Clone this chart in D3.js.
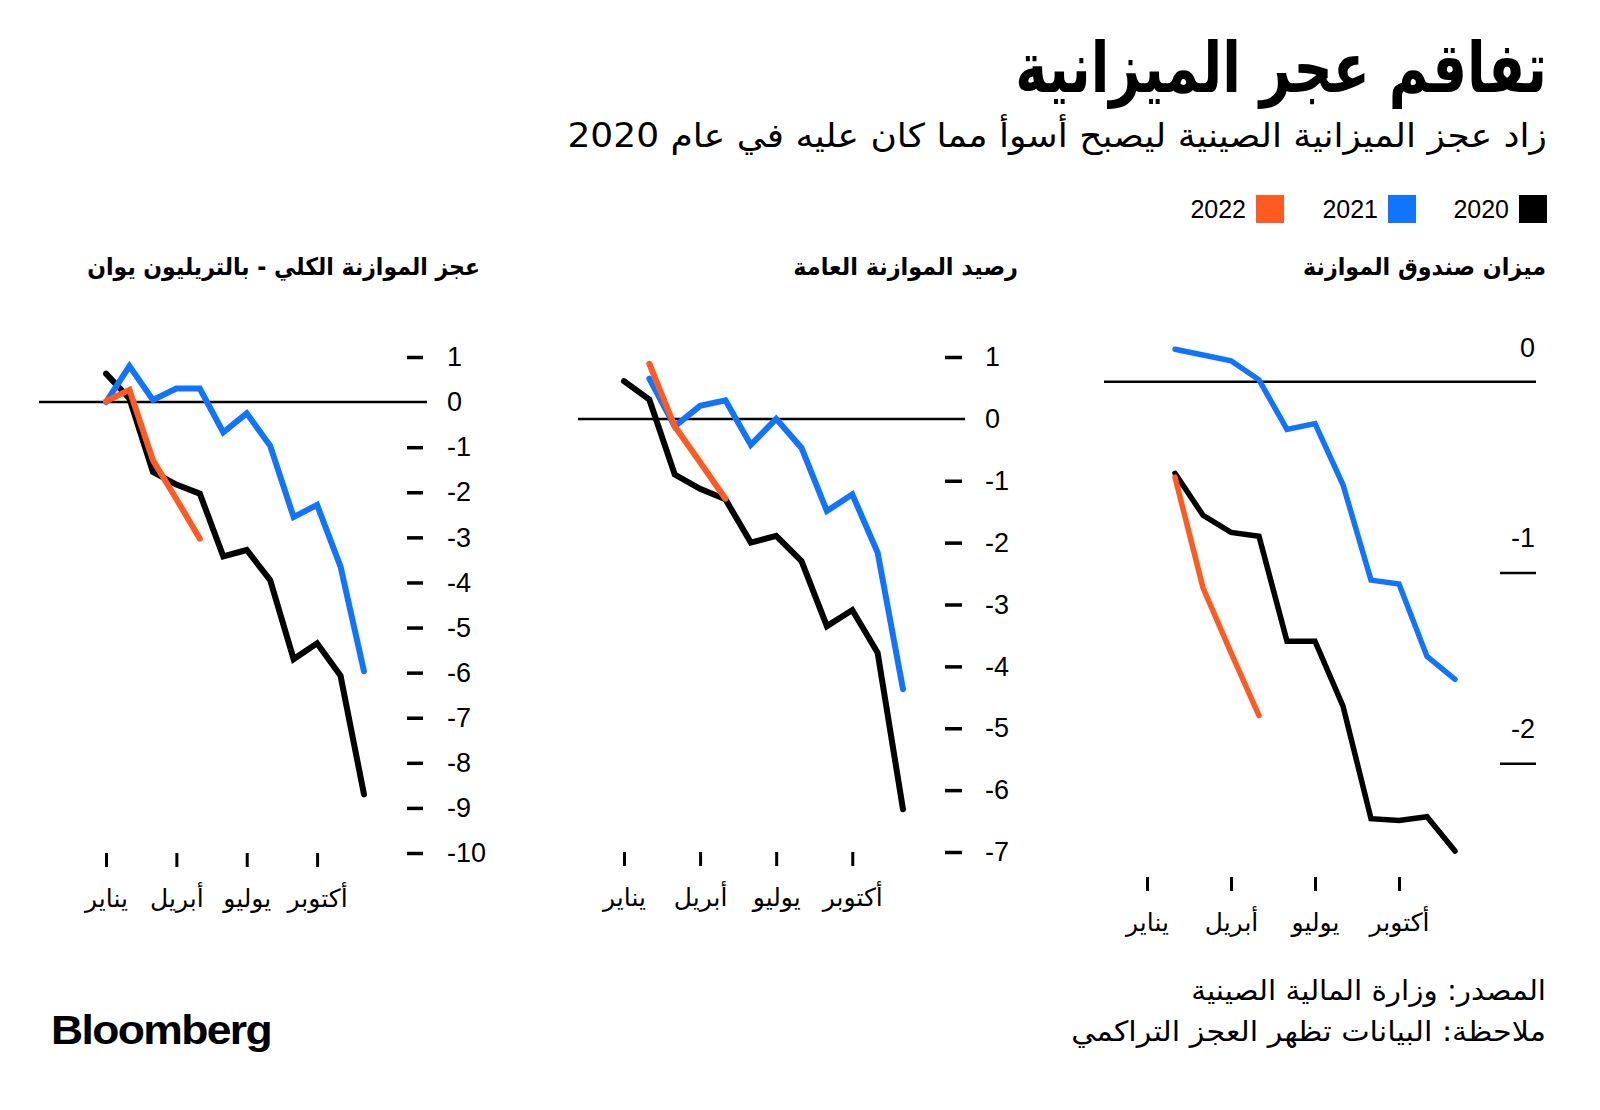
<!DOCTYPE html>
<html>
<head>
<meta charset="utf-8">
<script src="https://cdn.jsdelivr.net/npm/d3@7"></script>
<style>
  html, body { margin: 0; padding: 0; background: #fff; }
  svg { display: block; }
  .ar { font-family: "DejaVu Sans", "Noto Sans", sans-serif; }
  .num { font-family: "Liberation Sans", Arial, sans-serif; }
</style>
</head>
<body>
<svg id="chart" width="1600" height="1110"></svg>
<script>
// ---------- data ----------
const months = ["يناير","فبراير","مارس","أبريل","مايو","يونيو","يوليو","أغسطس","سبتمبر","أكتوبر","نوفمبر","ديسمبر"];
const monthTickIdx = [0, 3, 6, 9];
const monthTickLabels = ["يناير", "أبريل", "يوليو", "أكتوبر"];
const years = ["2020", "2021", "2022"];
const colors = ["#000000", "#1174ff", "#ff5a22"];

// Panel A: overall deficit (trillion yuan)
const totalDeficit2020 = [0.63, 0.08, -1.55, -1.83, -2.03, -3.42, -3.28, -3.95, -5.70, -5.35, -6.07, -8.70];
const totalDeficit2021 = [0.00, 0.80, 0.05, 0.30, 0.30, -0.67, -0.25, -0.97, -2.55, -2.28, -3.65, -5.97];
const totalDeficit2022 = [0.02, 0.27, -1.29, -2.15, -3.03];
const totalTicks = [1, 0, -1, -2, -3, -4, -5, -6, -7, -8, -9, -10];

// Panel B: general public budget balance
const generalBudget2020 = [0.61, 0.31, -0.90, -1.13, -1.30, -2.00, -1.89, -2.30, -3.35, -3.09, -3.78, -6.31];
const generalBudget2021 = [null, 0.65, -0.12, 0.21, 0.30, -0.42, 0.00, -0.47, -1.49, -1.22, -2.16, -4.37];
const generalBudget2022 = [null, 0.89, -0.12, -0.70, -1.29];
const generalTicks = [1, 0, -1, -2, -3, -4, -5, -6, -7];

// Panel C: government fund budget balance
const fundBudget2020 = [null, -0.48, -0.70, -0.79, -0.81, -1.36, -1.36, -1.70, -2.29, -2.30, -2.28, -2.46];
const fundBudget2021 = [null, 0.17, 0.14, 0.11, 0.01, -0.25, -0.22, -0.54, -1.04, -1.06, -1.44, -1.56];
const fundBudget2022 = [null, -0.50, -1.08, -1.42, -1.75];
const fundTicks = [0, -1, -2];

const titleText = "تفاقم عجر الميزانية";
const subtitleText = "زاد عجز الميزانية الصينية ليصبح أسوأ مما كان عليه في عام 2020";
const panelTitles = ["عجز الموازنة الكلي - بالتريليون يوان", "رصيد الموازنة العامة", "ميزان صندوق الموازنة"];
const sourceText = "المصدر: وزارة المالية الصينية";
const noteText = "ملاحظة: البيانات تظهر العجز التراكمي";

// ---------- drawing ----------
const svg = d3.select("#chart");
svg.append("rect").attr("width", 1600).attr("height", 1110).attr("fill", "#fff");

const hyphenFmt = d => String(d); // plain hyphen-minus like the reference

function fitRight(sel, xRight, y, width) {
  const w = sel.node().getComputedTextLength();
  const s = width / w;
  sel.attr("x", 0).attr("y", 0)
     .attr("transform", `translate(${xRight},${y}) scale(${s},1)`);
}
function fitLeft(sel, xLeft, y, width) {
  const w = sel.node().getComputedTextLength();
  const s = width / w;
  sel.attr("x", 0).attr("y", 0)
     .attr("transform", `translate(${xLeft},${y}) scale(${s},1)`);
}

// Title
const t = svg.append("text").attr("class", "ar").attr("text-anchor", "end")
  .attr("font-size", 70).attr("font-weight", 900).attr("fill", "#000").text(titleText);
fitRight(t, 1547, 92, 532);

// Subtitle
const st = svg.append("text").attr("class", "ar").attr("text-anchor", "end")
  .attr("font-size", 33).attr("fill", "#000").text(subtitleText);
fitRight(st, 1547, 147, 980);

// Legend
const legendSquareX = [1519, 1388, 1256];
years.forEach((yr, i) => {
  svg.append("rect").attr("x", legendSquareX[i]).attr("y", 195).attr("width", 28).attr("height", 28)
    .attr("fill", colors[i]);
  svg.append("text").attr("class", "num").attr("x", legendSquareX[i] - 10).attr("y", 209)
    .attr("dy", "0.35em").attr("text-anchor", "end").attr("font-size", 25).attr("fill", "#000").text(yr);
});

// Panel titles
const panelTitleRight = [480, 1018, 1546];
const panelTitleWidth = [393, 225, 243];
panelTitles.forEach((pt, i) => {
  const s = svg.append("text").attr("class", "ar").attr("text-anchor", "end")
    .attr("font-size", 24).attr("font-weight", "bold").attr("fill", "#000").text(pt);
  fitRight(s, panelTitleRight[i], 275, panelTitleWidth[i]);
});

function drawLines(g, x, y, seriesList, lw) {
  const line = d3.line()
    .defined(d => d.v !== null && d.v !== undefined)
    .x(d => x(d.i)).y(d => y(d.v));
  seriesList.forEach((vals, k) => {
    const data = vals.map((v, i) => ({ i, v }));
    g.append("path").datum(data)
      .attr("d", line)
      .attr("fill", "none")
      .attr("stroke", colors[k])
      .attr("stroke-width", lw)
      .attr("stroke-linejoin", "miter")
      .attr("stroke-miterlimit", 2)
      .attr("stroke-linecap", "round");
  });
}

function monthAxis(g, x, yPos) {
  const ax = d3.axisBottom(x).tickValues(monthTickIdx)
    .tickFormat((d, i) => monthTickLabels[i]).tickSize(14).tickPadding(0);
  const ag = g.append("g").attr("transform", `translate(0,${yPos})`).call(ax);
  ag.select(".domain").remove();
  ag.selectAll(".tick line").attr("stroke", "#000").attr("stroke-width", 3);
  ag.selectAll(".tick text").attr("class", "ar").attr("font-family", null)
    .attr("font-size", 25).attr("fill", "#000")
    .attr("y", 45).attr("dy", "0.35em");
}

// ---- Panel A ----
{
  const g = svg.append("g");
  const x = d3.scaleLinear().domain([0, 11]).range([106, 364]);
  const y = d3.scaleLinear().domain([1, -10]).range([357, 853]);
  g.append("line").attr("x1", 39).attr("x2", 427).attr("y1", y(0)).attr("y2", y(0))
    .attr("stroke", "#000").attr("stroke-width", 2.5);
  const ax = d3.axisRight(y).tickValues(totalTicks).tickSize(16).tickPadding(24)
    .tickFormat(hyphenFmt);
  const ag = g.append("g").attr("transform", "translate(407,0)").call(ax);
  ag.select(".domain").remove();
  ag.selectAll(".tick line").attr("stroke", "#000").attr("stroke-width", 3.5);
  ag.selectAll(".tick").filter(d => d === 0).select("line").remove();
  ag.selectAll(".tick text").attr("class", "num").attr("font-family", null)
    .attr("font-size", 27).attr("fill", "#000");
  monthAxis(g, x, 853);
  drawLines(g, x, y, [totalDeficit2020, totalDeficit2021, totalDeficit2022], 6);
}

// ---- Panel B ----
{
  const g = svg.append("g");
  const x = d3.scaleLinear().domain([0, 11]).range([624, 903]);
  const y = d3.scaleLinear().domain([1, -7]).range([357, 852]);
  g.append("line").attr("x1", 578).attr("x2", 965).attr("y1", y(0)).attr("y2", y(0))
    .attr("stroke", "#000").attr("stroke-width", 2.5);
  const ax = d3.axisRight(y).tickValues(generalTicks).tickSize(17).tickPadding(23)
    .tickFormat(hyphenFmt);
  const ag = g.append("g").attr("transform", "translate(945,0)").call(ax);
  ag.select(".domain").remove();
  ag.selectAll(".tick line").attr("stroke", "#000").attr("stroke-width", 3.5);
  ag.selectAll(".tick").filter(d => d === 0).select("line").remove();
  ag.selectAll(".tick text").attr("class", "num").attr("font-family", null)
    .attr("font-size", 27).attr("fill", "#000");
  monthAxis(g, x, 852);
  drawLines(g, x, y, [generalBudget2020, generalBudget2021, generalBudget2022], 6);
}

// ---- Panel C ----
{
  const g = svg.append("g");
  const x = d3.scaleLinear().domain([0, 11]).range([1147, 1455]);
  const y = d3.scaleLinear().domain([0, -2]).range([381.7, 763.3]);
  g.append("line").attr("x1", 1104).attr("x2", 1536).attr("y1", y(0)).attr("y2", y(0))
    .attr("stroke", "#000").attr("stroke-width", 2.5);
  const ax = d3.axisLeft(y).tickValues(fundTicks).tickSize(36).tickPadding(0)
    .tickFormat(hyphenFmt);
  const ag = g.append("g").attr("transform", "translate(1536,0)").call(ax);
  ag.select(".domain").remove();
  ag.selectAll(".tick line").attr("stroke", "#000").attr("stroke-width", 2.5);
  ag.selectAll(".tick").filter(d => d === 0).select("line").remove();
  ag.selectAll(".tick text").attr("class", "num").attr("font-family", null)
    .attr("font-size", 27).attr("fill", "#000")
    .attr("x", -1).attr("y", -35).attr("dy", "0.35em").attr("text-anchor", "end");
  monthAxis(g, x, 877);
  drawLines(g, x, y, [fundBudget2020, fundBudget2021, fundBudget2022], 5.5);
}

// Footer
const src = svg.append("text").attr("class", "ar").attr("text-anchor", "end")
  .attr("font-size", 28).attr("fill", "#000").text(sourceText);
fitRight(src, 1546, 1000, 355);
const note = svg.append("text").attr("class", "ar").attr("text-anchor", "end")
  .attr("font-size", 28).attr("fill", "#000").text(noteText);
fitRight(note, 1546, 1041, 475);

const logo = svg.append("text").attr("class", "num").attr("text-anchor", "start")
  .attr("font-size", 40).attr("font-weight", "bold").attr("letter-spacing", -1.5)
  .attr("fill", "#000").text("Bloomberg");
fitLeft(logo, 51, 1044, 220);
</script>
</body>
</html>
